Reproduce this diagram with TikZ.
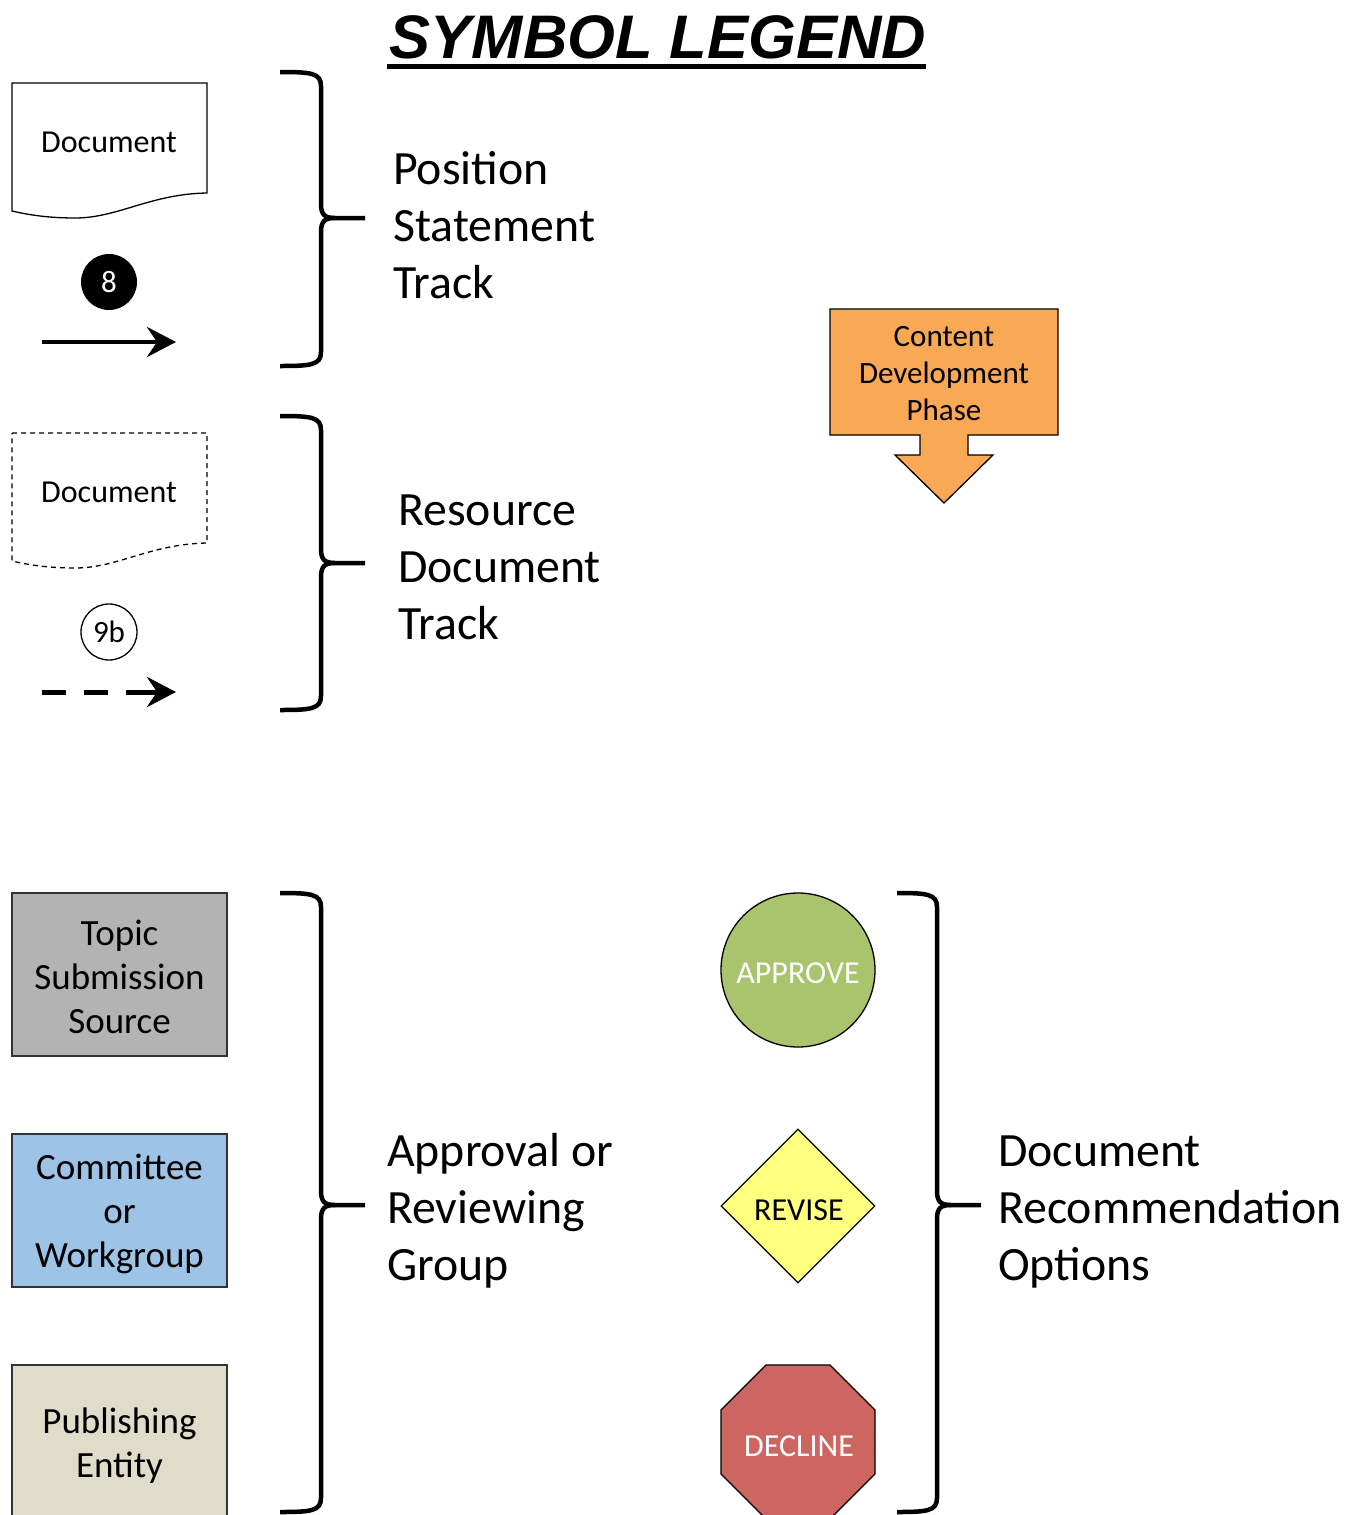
\documentclass[tikz,border=0pt]{standalone}
\usepackage{fontspec}
\setmainfont{Carlito}
\newfontfamily\titlefont{Liberation Sans}
\usetikzlibrary{arrows.meta,shapes.geometric}
\definecolor{grayfill}{HTML}{B3B3B3}
\definecolor{bluefill}{HTML}{9DC3E6}
\definecolor{beigefill}{HTML}{DFDCC9}
\definecolor{orangefill}{HTML}{F9A856}
\definecolor{greenfill}{HTML}{A9C46C}
\definecolor{yellowfill}{HTML}{FFFF80}
\definecolor{redfill}{HTML}{CD6660}
\newcommand\legbrace[6]{%
  \draw[bracestyle] (#1,#4) .. controls (#2-10,#4) and (#2,#4+1) .. (#2,#4+14)
     -- (#2,#5-14) .. controls (#2,#5-3) and (#2+4,#5) .. (#2+14,#5) -- (#3,#5);
  \draw[bracestyle] (#2+14,#5) .. controls (#2+4,#5) and (#2,#5+3) .. (#2,#5+14)
     -- (#2,#6-14) .. controls (#2,#6-1) and (#2-10,#6) .. (#1,#6);
}
\begin{document}
\begin{tikzpicture}[x=1pt,y=-1pt,
  bracestyle/.style={line width=4.5pt},
  doctext/.style={font=\fontsize{32}{36}\selectfont, inner sep=0pt},
  biglabel/.style={font=\fontsize{47.8}{57}\selectfont, align=left, anchor=west, inner sep=0pt},
  entity/.style={draw=black!80, line width=1.3pt, minimum width=215pt, minimum height=163pt,
     align=center, font=\fontsize{37}{44}\selectfont, inner sep=0pt},
  optshape/.style={draw=black, line width=1.3pt},
  opttext/.style={font=\fontsize{32}{32}\selectfont, inner sep=0pt},
  numcircle/.style={circle, minimum size=56pt, inner sep=0pt, font=\fontsize{31}{31}\selectfont}
]
\useasboundingbox (0,0) rectangle (1361,1515);
\clip (0,0) rectangle (1361,1515);

% title
\node[font=\titlefont\bfseries\itshape\fontsize{61.5}{61.5}\selectfont, inner sep=0pt] (title) at (658,37) {SYMBOL LEGEND};
\coordinate (ulA) at (387,66);
\coordinate (ulB) at (926,66);
\draw[line width=5pt] (ulA) -- (ulB);

% position statement track
\draw[line width=1.3pt] (12,83) -- (207,83) -- (207,193)
   .. controls (150,194) and (118,218) .. (75,218)
   .. controls (45,218) and (25,214) .. (12,211) -- cycle;
\node[doctext] (doc1) at (109,142) {Document};
\node[numcircle, fill=black, text=white] (n8) at (109,282) {8};
\coordinate (a1s) at (42,342);
\coordinate (a1e) at (176,342);
\draw[line width=4.5pt, -{Stealth[length=29pt,width=30pt,inset=10pt]}] (a1s) -- (a1e);
\legbrace{280}{321}{365}{72}{218}{366}
\node[biglabel] (pst) at (393,225) {Position\\Statement\\Track};

% resource document track
\draw[line width=1.3pt, dash pattern=on 5pt off 4pt] (12,433) -- (207,433) -- (207,543)
   .. controls (150,544) and (118,568) .. (75,568)
   .. controls (45,568) and (25,564) .. (12,561) -- cycle;
\node[doctext] (doc2) at (109,492) {Document};
\node[numcircle, draw=black, line width=1.3pt, fill=white] (n9b) at (109,632) {9b};
\coordinate (a2s) at (42,692);
\coordinate (a2e) at (176,692);
\draw[line width=5pt, dash pattern=on 24pt off 18pt] (a2s) -- (150,692);
\draw[line width=5pt, -{Stealth[length=29pt,width=30pt,inset=10pt]}] (148,692) -- (a2e);
\legbrace{280}{321}{365}{416}{563}{710}
\node[biglabel] (rdt) at (398,567) {Resource\\Document\\Track};

% content development phase
\draw[line width=1.3pt, fill=orangefill] (830,309) -- (1058,309) -- (1058,435) -- (968,435)
  -- (968,455) -- (993,455) -- (944,503) -- (895,455) -- (920,455) -- (920,435)
  -- (830,435) -- cycle;
\node[font=\fontsize{31}{37}\selectfont, align=center, inner sep=0pt] (cdp) at (944,374) {Content\\Development\\Phase};

% entities
\node[entity, fill=grayfill] (topic) at (119.5,974.5) {};
\node[font=\fontsize{37}{44}\selectfont, align=center, inner sep=0pt] (topictext) at (119.5,977) {Topic\\Submission\\Source};
\node[entity, fill=bluefill, minimum height=153pt] (committee) at (119.5,1210.5) {};
\node[font=\fontsize{37}{44}\selectfont, align=center, inner sep=0pt] (committeetext) at (119.5,1214) {Committee\\or\\Workgroup};
\node[entity, fill=beigefill, minimum height=170pt] (publish) at (119.5,1450) {};
\node[font=\fontsize{37}{44}\selectfont, align=center, inner sep=0pt] (publishtext) at (119.5,1446) {Publishing\\Entity};
\legbrace{280}{321}{365}{893}{1205}{1512}
\node[biglabel] (arg) at (387,1211) {Approval or\\Reviewing\\Group};

% options
\node[circle, optshape, fill=greenfill, minimum size=154pt, inner sep=0pt] (approve) at (798,970) {};
\node[opttext, text=white] (approvetext) at (798,973) {APPROVE};
\node[diamond, optshape, fill=yellowfill, minimum width=154pt, minimum height=154pt, inner sep=0pt] (revise) at (798,1206) {};
\node[opttext] (revisetext) at (799,1210) {REVISE};
\draw[optshape, fill=redfill] (766,1365) -- (830,1365) -- (875,1410) -- (875,1474) -- (830,1519)
   -- (766,1519) -- (721,1474) -- (721,1410) -- cycle;
\node[opttext, text=white] (decline) at (799,1446) {DECLINE};
\legbrace{897}{937}{981}{893}{1205}{1512}
\node[biglabel] (dro) at (998,1212) {Document\\Recommendation\\Options};
\end{tikzpicture}
\end{document}
